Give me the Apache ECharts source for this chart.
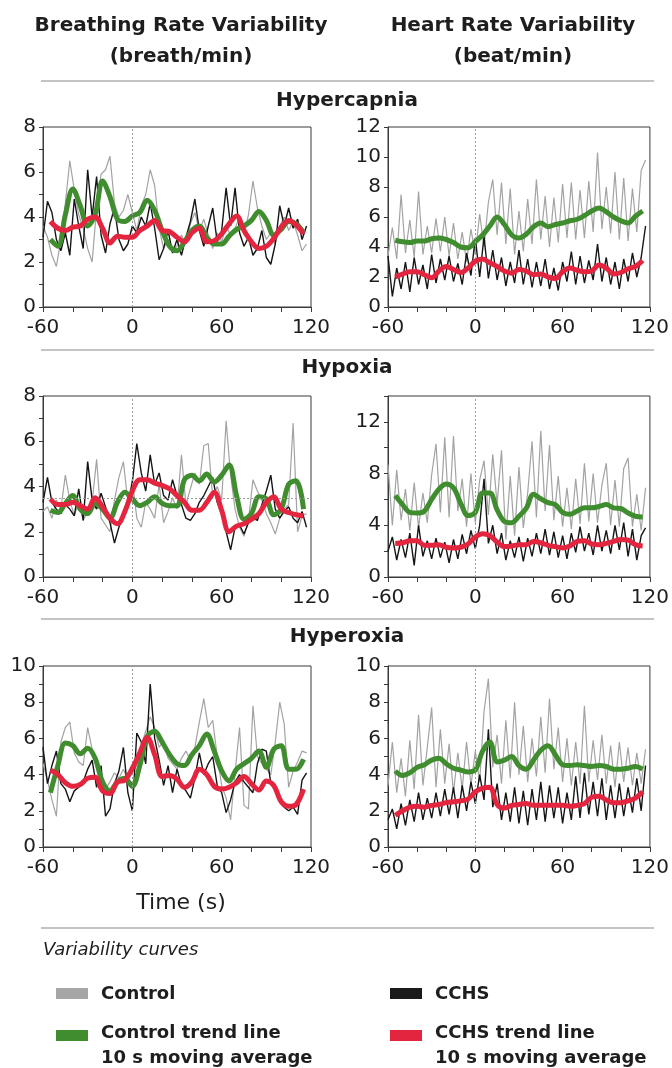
<!DOCTYPE html>
<html><head><meta charset="utf-8">
<script src="https://cdn.jsdelivr.net/npm/echarts@6/dist/echarts.min.js"></script>
<style>html,body{margin:0;padding:0;background:#fff}#c{width:672px;height:1068px}</style>
</head><body><div id="c"></div>
<script>
// time bases (s)
const timeRaw = [-60,-57,-54,-51,-48,-45,-42,-39,-36,-33,-30,-27,-24,-21,-18,-15,-12,-9,-6,-3,0,3,6,9,12,15,18,21,24,27,30,33,36,39,42,45,48,51,54,57,60,63,66,69,72,75,78,81,84,87,90,93,96,99,102,105,108,111,114,117];
const timeTrend = [-55,-50,-45,-40,-35,-30,-25,-20,-15,-10,-5,0,5,10,15,20,25,30,35,40,45,50,55,60,65,70,75,80,85,90,95,100,105,110,115];
const xTickLabels = ['-60','0','60','120'];

// Breathing rate variability - Hypercapnia
const brHcControl = [3.6,3.1,2.3,1.8,3.0,4.6,6.5,5.2,4.1,3.5,2.6,2.0,4.4,5.9,6.1,6.7,4.6,4.0,4.3,5.0,4.2,3.4,4.5,5.0,6.1,5.4,3.5,2.6,3.0,2.5,2.7,3.2,2.8,3.7,4.2,3.4,3.9,3.2,2.6,3.3,2.9,3.6,3.2,3.5,4.0,3.2,4.1,5.6,4.4,3.6,3.0,3.3,2.8,3.6,4.0,3.4,3.8,3.2,2.5,2.8];
const brHcCCHS = [3.1,4.7,4.2,3.0,2.5,3.3,2.3,4.8,3.6,2.6,6.1,4.0,5.8,3.2,2.4,3.7,4.4,3.0,2.5,2.8,3.6,3.3,4.0,3.6,4.6,3.5,2.1,2.6,3.4,2.4,3.0,2.3,3.1,3.8,4.8,3.4,2.7,3.6,4.4,2.9,3.4,5.3,3.6,5.3,3.3,2.7,3.1,2.3,2.6,3.4,2.2,1.9,2.8,4.5,3.6,4.4,3.5,3.9,3.0,3.6];
const brHcControlTrend = [3.0,2.7,4.1,5.25,4.5,3.6,4.1,5.6,4.9,3.9,3.8,4.05,4.2,4.75,4.3,3.4,2.7,2.5,2.9,3.4,3.6,3.1,2.8,2.8,3.15,3.45,3.6,3.85,4.25,3.85,3.2,3.45,3.8,3.7,3.3];
const brHcCCHSTrend = [3.8,3.5,3.4,3.55,3.6,3.9,4.0,3.5,2.85,3.15,3.1,3.1,3.4,3.6,3.85,3.4,3.35,3.1,2.9,3.3,3.5,2.9,2.95,3.25,3.7,4.05,3.4,2.9,2.6,2.7,3.05,3.55,3.85,3.65,3.25];

// Heart rate variability - Hypercapnia
const hrHcControl = [3.4,5.3,3.2,7.5,3.6,5.8,3.3,7.7,3.5,5.4,3.6,5.9,3.7,6.0,3.4,5.6,3.2,5.0,3.0,5.2,3.5,6.2,4.0,7.0,8.5,4.8,8.3,4.2,7.9,3.5,6.4,3.7,7.2,4.2,8.5,4.5,7.4,4.0,7.3,4.3,8.2,4.6,8.3,4.5,7.8,4.6,8.4,5.0,10.3,5.2,8.0,4.9,9.0,4.5,8.6,4.4,7.9,5.0,9.1,9.8];
const hrHcCCHS = [3.4,0.7,2.6,1.2,3.0,1.0,3.3,1.5,2.8,1.2,3.5,1.6,3.2,1.8,3.4,1.7,2.9,1.5,3.6,2.1,4.6,2.0,4.7,1.9,3.8,1.8,3.3,1.4,3.0,1.6,3.8,1.5,3.2,1.3,3.0,1.4,3.2,1.2,2.6,1.1,3.0,1.7,3.7,1.5,3.4,1.6,3.1,1.8,4.2,1.7,3.3,1.5,3.0,1.2,3.2,1.7,3.6,2.0,3.3,5.4];
const hrHcControlTrend = [4.45,4.35,4.3,4.4,4.4,4.55,4.6,4.5,4.3,4.0,3.95,4.35,4.8,5.4,6.0,5.5,4.8,4.6,4.85,5.35,5.6,5.35,5.5,5.6,5.75,5.85,6.1,6.4,6.6,6.35,6.0,5.75,5.6,6.05,6.4];
const hrHcCCHSTrend = [2.0,2.2,2.35,2.35,2.15,1.95,2.4,2.7,2.5,2.3,2.6,3.05,3.2,2.95,2.7,2.4,2.25,2.5,2.4,2.15,2.2,2.0,1.9,2.35,2.6,2.45,2.35,2.4,2.8,2.6,2.2,2.3,2.55,2.7,3.1];

// Breathing rate variability - Hypoxia
const brHxControl = [2.9,3.1,2.6,3.4,3.0,4.5,3.4,2.7,3.3,2.5,2.9,3.3,5.2,2.6,2.3,2.0,3.4,4.4,5.1,3.3,4.3,2.6,2.2,3.3,3.0,2.6,4.1,2.4,2.9,3.5,3.0,5.4,3.2,3.9,4.6,4.1,5.8,5.9,3.5,4.0,3.4,6.9,4.5,3.0,2.2,1.8,2.5,4.3,3.8,3.4,2.8,2.4,1.9,2.6,3.0,3.2,6.8,2.0,2.7,2.8];
const brHxCCHS = [3.3,4.4,3.3,3.0,2.8,3.2,3.0,2.7,3.9,2.5,5.1,3.4,3.0,3.7,3.1,2.4,1.5,2.2,2.7,3.1,4.2,5.9,4.6,3.8,5.4,4.1,4.6,3.6,3.4,4.3,3.6,3.2,2.6,2.5,2.8,3.3,3.6,4.0,4.4,3.3,2.8,2.0,1.2,2.2,2.3,1.9,2.4,2.6,2.5,3.2,3.8,4.5,3.0,2.6,2.9,3.1,2.6,2.4,2.9,2.2];
const brHxControlTrend = [2.95,2.85,3.25,3.6,3.0,2.8,3.25,3.0,2.6,3.3,3.75,3.45,3.15,3.3,3.55,3.25,3.15,3.15,4.3,4.5,4.25,4.55,4.2,4.5,4.95,3.6,2.55,2.8,3.55,3.45,2.75,3.0,4.1,4.25,3.0];
const brHxCCHSTrend = [3.45,3.2,3.2,3.3,3.15,3.0,3.5,3.1,2.6,2.35,2.9,3.8,4.3,4.3,4.15,4.05,3.9,3.6,3.3,2.95,2.95,3.3,3.75,2.95,2.0,2.25,2.35,2.55,2.8,3.3,3.55,3.0,2.85,2.75,2.7];
const brHxReference = [3.5];

// Heart rate variability - Hypoxia
const hrHxControl = [8.7,4.0,8.3,4.4,6.8,3.6,7.3,3.8,6.5,4.2,7.9,10.3,5.0,10.8,4.6,10.9,5.1,7.6,3.9,8.0,4.2,7.5,9.0,4.8,9.5,5.6,9.8,2.9,7.8,3.2,8.5,3.8,6.5,10.5,4.6,11.3,5.1,10.2,4.4,7.8,3.9,6.9,3.7,7.6,4.1,8.8,4.3,8.0,4.2,7.1,8.8,4.0,7.5,3.9,8.4,9.2,3.9,6.4,3.6,6.9];
const hrHxCCHS = [2.0,3.1,1.3,2.9,1.5,3.4,0.9,4.0,1.6,2.8,1.4,3.0,1.5,2.7,1.1,2.9,1.4,3.3,1.8,3.6,2.2,4.0,7.6,2.6,4.0,1.8,3.4,1.3,2.8,1.5,3.1,1.2,3.0,1.6,3.4,1.8,3.7,1.7,3.5,1.5,3.2,1.4,3.4,1.9,3.9,2.0,3.4,1.7,4.0,2.0,3.6,1.8,4.0,2.1,4.2,1.6,3.7,1.3,3.2,3.8];
const hrHxControlTrend = [6.3,5.6,5.0,4.95,5.1,6.0,6.8,7.2,6.9,5.7,4.75,5.0,6.5,6.5,5.2,4.3,4.2,4.7,5.3,6.4,6.05,5.75,5.6,5.0,4.85,5.1,5.35,5.35,5.45,5.6,5.35,5.3,4.95,4.7,4.65];
const hrHxCCHSTrend = [2.6,2.65,2.8,2.8,2.45,2.45,2.5,2.3,2.25,2.3,2.55,3.1,3.35,3.2,2.7,2.35,2.4,2.5,2.5,2.75,2.65,2.45,2.35,2.25,2.4,2.75,2.8,2.55,2.5,2.6,2.75,2.9,2.85,2.5,2.4];

// Breathing rate variability - Hyperoxia
const brHoControl = [4.6,3.7,2.6,1.7,5.8,6.6,6.9,5.2,4.7,4.5,6.6,5.4,4.3,3.4,3.2,3.6,4.1,3.8,4.3,3.7,4.1,4.5,5.6,6.4,7.2,6.6,5.5,5.9,4.9,4.6,4.3,4.9,5.3,4.8,5.5,6.9,8.2,6.6,7.0,5.0,3.4,2.7,1.5,4.1,6.6,2.3,2.1,7.8,5.0,4.6,4.3,4.0,5.8,8.0,6.8,3.3,4.2,4.7,5.3,5.2];
const brHoCCHS = [5.5,3.5,4.5,5.3,3.5,3.2,2.5,3.1,3.3,3.6,4.3,4.8,3.3,4.5,1.7,2.1,3.5,4.2,5.5,3.0,2.0,6.3,5.8,4.6,9.0,6.0,4.8,3.4,4.5,3.0,4.3,3.4,3.1,2.7,3.8,5.2,4.0,4.6,5.0,3.4,3.0,1.9,2.6,3.6,4.0,3.6,3.3,3.0,4.6,5.4,5.3,3.5,3.2,2.6,2.2,2.0,2.2,1.8,3.7,4.1];
const brHoControlTrend = [3.0,4.5,5.75,5.6,5.15,5.45,4.9,3.6,3.1,3.6,3.8,3.35,4.5,6.1,6.4,5.8,5.1,4.6,4.5,5.1,5.6,6.25,5.3,4.2,3.65,4.3,4.6,4.9,5.3,4.4,5.4,5.6,4.3,4.3,4.85];
const brHoCCHSTrend = [4.25,4.0,3.55,3.35,3.45,3.8,3.85,3.1,2.95,3.6,3.7,4.35,5.2,6.05,5.1,3.9,3.95,3.75,3.3,3.6,4.3,4.0,3.35,3.2,3.3,3.55,3.9,3.5,3.15,3.65,3.4,2.5,2.25,2.35,3.2];

// Heart rate variability - Hyperoxia
const hrHoControl = [3.4,5.8,3.0,4.9,2.8,5.9,3.2,7.3,3.4,5.5,7.7,3.3,6.5,3.5,5.7,3.0,5.2,3.2,5.8,3.4,5.3,3.6,7.5,9.3,4.4,6.2,3.5,7.0,3.8,8.0,4.0,6.7,3.6,6.0,3.9,7.2,4.1,8.2,4.3,6.6,3.6,6.0,3.4,5.8,3.5,7.8,3.6,5.9,3.7,6.2,3.5,5.6,3.3,5.8,3.6,5.5,3.4,5.2,3.5,5.4];
const hrHoCCHS = [1.5,2.1,1.0,2.4,1.2,2.6,1.4,3.0,1.5,2.7,1.6,3.0,1.7,3.2,1.8,3.3,1.6,3.4,2.0,3.6,2.4,4.0,2.6,6.5,2.2,3.5,1.5,3.0,1.4,3.3,1.3,3.1,1.2,3.2,1.5,3.6,1.4,3.4,1.6,3.3,1.3,3.0,1.5,3.9,1.6,4.1,1.8,3.6,1.7,3.8,1.5,3.4,1.6,3.5,1.7,3.3,1.9,3.8,2.0,4.5];
const hrHoControlTrend = [4.2,3.95,4.1,4.4,4.55,4.8,4.9,4.6,4.35,4.25,4.15,4.25,5.3,5.8,4.7,4.8,5.0,4.5,4.3,4.8,5.35,5.6,5.1,4.55,4.5,4.55,4.5,4.45,4.5,4.45,4.3,4.3,4.35,4.45,4.3];
const hrHoCCHSTrend = [1.75,2.0,2.2,2.25,2.2,2.3,2.35,2.45,2.5,2.55,2.65,3.05,3.25,3.3,2.35,2.15,2.3,2.35,2.4,2.3,2.3,2.3,2.3,2.3,2.25,2.3,2.4,2.75,2.8,2.6,2.45,2.45,2.55,2.7,3.05];

const conditionTitles = ['Hypercapnia','Hypoxia','Hyperoxia'];
const columnTitles = [['Breathing Rate Variability','(breath/min)'],['Heart Rate Variability','(beat/min)']];
const legendNames = ['Control','CCHS','Control trend line','CCHS trend line'];

const COLORS = {control:'#a3a3a3', cchs:'#151515', ctrlTrend:'#3f8d2f', cchsTrend:'#e4253f', axis:'#3a3a3a', sep:'#c4c4c4'};
const FONT = 'DejaVu Sans';

const panels = [
  {left:43, top:127, width:268, height:180, yMax:8, yInt:1, lab:2, d:[brHcControl,brHcCCHS,brHcControlTrend,brHcCCHSTrend]},
  {left:388, top:127, width:265, height:180, yMax:12, yInt:2, lab:2, d:[hrHcControl,hrHcCCHS,hrHcControlTrend,hrHcCCHSTrend]},
  {left:43, top:396, width:268, height:181, yMax:8, yInt:1, lab:2, d:[brHxControl,brHxCCHS,brHxControlTrend,brHxCCHSTrend], ref:brHxReference},
  {left:388, top:396, width:265, height:181, yMax:14, yInt:2, lab:4, d:[hrHxControl,hrHxCCHS,hrHxControlTrend,hrHxCCHSTrend]},
  {left:43, top:666, width:268, height:181, yMax:10, yInt:1, lab:2, d:[brHoControl,brHoCCHS,brHoControlTrend,brHoCCHSTrend]},
  {left:388, top:666, width:265, height:181, yMax:10, yInt:1, lab:2, d:[hrHoControl,hrHoCCHS,hrHoControlTrend,hrHoCCHSTrend]}
];

function zip(xs, ys){ return ys.map((v,i)=>[xs[i], v]); }

const grid=[], xAxis=[], yAxis=[], series=[];
panels.forEach((p,i)=>{
  grid.push({left:p.left, top:p.top, width:p.width, height:p.height, show:true, borderColor:COLORS.axis, borderWidth:1, containLabel:false});
  xAxis.push({type:'value', gridIndex:i, min:-60, max:120, interval:20,
    axisLine:{show:true, onZero:false, lineStyle:{color:COLORS.axis, width:1}},
    axisTick:{show:true, inside:false, length:5, lineStyle:{color:COLORS.axis}},
    axisLabel:{fontFamily:FONT, fontSize:20, color:'#1e1e1e', margin:11,
      formatter:v=> xTickLabels.indexOf(String(v))>=0 ? String(v) : ''},
    splitLine:{show:false}});
  yAxis.push({type:'value', gridIndex:i, min:0, max:p.yMax, interval:p.yInt,
    axisLine:{show:true, onZero:false, lineStyle:{color:COLORS.axis, width:1}},
    axisTick:{show:true, inside:false, length:4, lineStyle:{color:COLORS.axis}},
    axisLabel:{fontFamily:FONT, fontSize:20, color:'#1e1e1e', margin:7,
      formatter:v=> (v % p.lab === 0 && v <= 12) ? String(v) : ''},
    splitLine:{show:false}});
  const markData=[{xAxis:0}];
  if(p.ref) markData.push({yAxis:p.ref[0]});
  series.push({type:'line', xAxisIndex:i, yAxisIndex:i, data:zip(timeRaw,p.d[0]), showSymbol:false, silent:true,
    lineStyle:{color:COLORS.control, width:1.2}, z:2,
    markLine:{symbol:'none', silent:true, label:{show:false}, lineStyle:{type:[2,2], color:'#9a9a9a', width:1}, data:markData}});
  series.push({type:'line', xAxisIndex:i, yAxisIndex:i, data:zip(timeRaw,p.d[1]), showSymbol:false, silent:true,
    lineStyle:{color:COLORS.cchs, width:1.4}, z:3});
  series.push({type:'line', xAxisIndex:i, yAxisIndex:i, data:zip(timeTrend,p.d[2]), showSymbol:false, silent:true, smooth:0.35,
    lineStyle:{color:COLORS.ctrlTrend, width:5}, z:4});
  series.push({type:'line', xAxisIndex:i, yAxisIndex:i, data:zip(timeTrend,p.d[3]), showSymbol:false, silent:true, smooth:0.35,
    lineStyle:{color:COLORS.cchsTrend, width:5}, z:5});
});

function txt(x,y,text,font,align){
  return {type:'text', x:x, y:y, silent:true, style:{text:text, font:font, fill:'#1e1e1e', textAlign:align||'center', textVerticalAlign:'middle'}};
}
function hline(y){
  return {type:'line', silent:true, shape:{x1:41,y1:y,x2:654,y2:y}, style:{stroke:COLORS.sep, lineWidth:2}};
}
function swatch(x,y,color){
  return {type:'rect', silent:true, shape:{x:x,y:y,width:32,height:11}, style:{fill:color}};
}
const bold20 = 'bold 20px "'+FONT+'"';
const bold18 = 'bold 18px "'+FONT+'"';
const graphic = [
  txt(181,26,columnTitles[0][0],bold20), txt(181,57,columnTitles[0][1],bold20),
  txt(513,26,columnTitles[1][0],bold20), txt(513,57,columnTitles[1][1],bold20),
  hline(81), hline(350), hline(619), hline(928),
  txt(347,101,conditionTitles[0],bold20),
  txt(347,368,conditionTitles[1],bold20),
  txt(347,637,conditionTitles[2],bold20),
  txt(181,903,'Time (s)','22px "'+FONT+'"'),
  txt(43,950,'Variability curves','italic 18px "'+FONT+'"','left'),
  swatch(56,988,'#a6a6a6'), txt(101,994,legendNames[0],bold18,'left'),
  swatch(390,988,'#1a1a1a'), txt(435,994,legendNames[1],bold18,'left'),
  swatch(56,1030,'#3f8d2f'), txt(101,1033,legendNames[2],bold18,'left'), txt(101,1058,'10 s moving average',bold18,'left'),
  swatch(390,1030,'#e4253f'), txt(435,1033,legendNames[3],bold18,'left'), txt(435,1058,'10 s moving average',bold18,'left')
];

const chart = echarts.init(document.getElementById('c'), null, {renderer:'canvas'});
chart.setOption({animation:false, backgroundColor:'#fff', grid, xAxis, yAxis, series, graphic});
</script></body></html>
